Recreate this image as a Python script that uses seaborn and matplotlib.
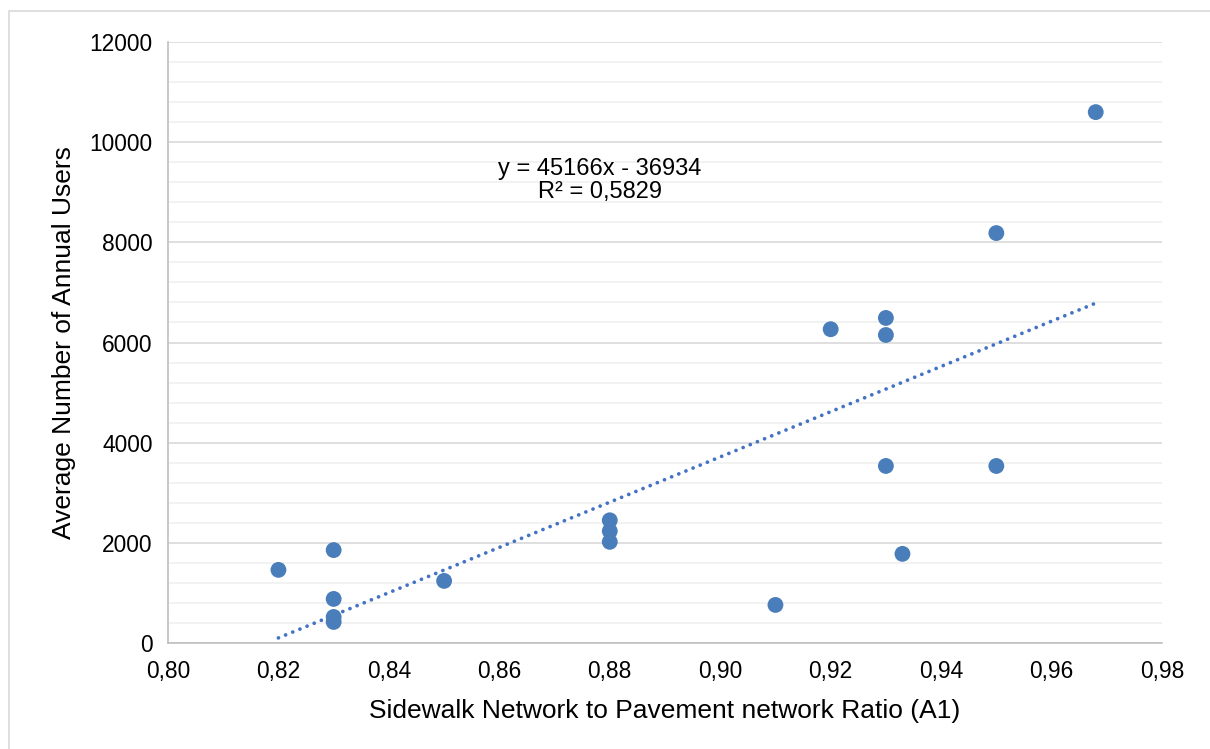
import numpy as np
import pandas as pd
import matplotlib
matplotlib.use('Agg')
import matplotlib.pyplot as plt
import seaborn as sns
from matplotlib.ticker import FuncFormatter, MultipleLocator
from matplotlib.patches import Rectangle

# Datos
ratio = [0.82, 0.83, 0.83, 0.83, 0.83, 0.85, 0.88, 0.88, 0.88,
         0.91, 0.92, 0.93, 0.93, 0.93, 0.933, 0.95, 0.95, 0.968]
users = [1460, 1855, 880, 520, 420, 1240, 2450, 2235, 2020,
         760, 6265, 6490, 6150, 3535, 1780, 8185, 3535, 10600]

# Línea de tendencia (Excel)
slope = 45166
intercept = -36934
r2_text = '0,5829'

df = pd.DataFrame({'ratio': ratio, 'users': users})

sns.set_theme(style='white')
plt.rcParams['font.family'] = ['Liberation Sans', 'DejaVu Sans']

fig = plt.figure(figsize=(12.1, 7.49), dpi=100)
ax = fig.add_axes([168 / 1210, 1 - 643 / 749, (1162 - 168) / 1210, (643 - 42) / 749])

# Borde del gráfico
fig.patches.append(Rectangle((9 / 1210, -0.01), 1.1, 1 - 11 / 749 + 0.01,
                             transform=fig.transFigure, fill=False,
                             edgecolor='#d9d9d9', linewidth=1.2, zorder=0))

color = '#4a7ebb'
sns.scatterplot(data=df, x='ratio', y='users', ax=ax, color=color, s=130,
                edgecolor='none', zorder=3)

xt = np.array([min(ratio), max(ratio)])
ax.plot(xt, slope * xt + intercept, color='#4472c4', linewidth=2.7,
        linestyle=(0, (0.01, 2.05)), dash_capstyle='round', zorder=2)

ax.set_xlim(0.80, 0.98)
ax.set_ylim(0, 12000)
ax.xaxis.set_major_locator(MultipleLocator(0.02))
ax.yaxis.set_major_locator(MultipleLocator(2000))
ax.yaxis.set_minor_locator(MultipleLocator(400))
ax.xaxis.set_major_formatter(FuncFormatter(lambda v, p: f'{v:.2f}'.replace('.', ',')))
ax.yaxis.set_major_formatter(FuncFormatter(lambda v, p: f'{v:.0f}'))

ax.grid(which='major', axis='y', color='#d9d9d9', linewidth=1.2)
ax.grid(which='minor', axis='y', color='#f0f0f0', linewidth=1.2)
ax.set_axisbelow(True)

for s in ['top', 'right']:
    ax.spines[s].set_visible(False)
for s in ['left', 'bottom']:
    ax.spines[s].set_color('#bfbfbf')
    ax.spines[s].set_linewidth(1.2)

ax.tick_params(axis='both', which='major', direction='out', length=6, width=1.2,
               color='#bfbfbf', labelsize=16.4, labelcolor='black')
ax.tick_params(axis='x', pad=6)
ax.tick_params(axis='y', which='minor', length=0)
ax.tick_params(axis='y', pad=5)

ax.set_xlabel('Sidewalk Network to Pavement network Ratio (A1)', fontsize=19,
              color='black', labelpad=12)
ax.set_ylabel('Average Number of Annual Users', fontsize=19, color='black',
              labelpad=10)

eq_lines = [(f'y = {slope}x - {abs(intercept)}', 169),
            (f'R² = {r2_text}', 192)]
for txt, yp in eq_lines:
    fig.text(600 / 1210, 1 - yp / 749, txt, ha='center', va='center',
             fontsize=17, color='black')

fig.savefig('out.png', dpi=100, facecolor='white')
